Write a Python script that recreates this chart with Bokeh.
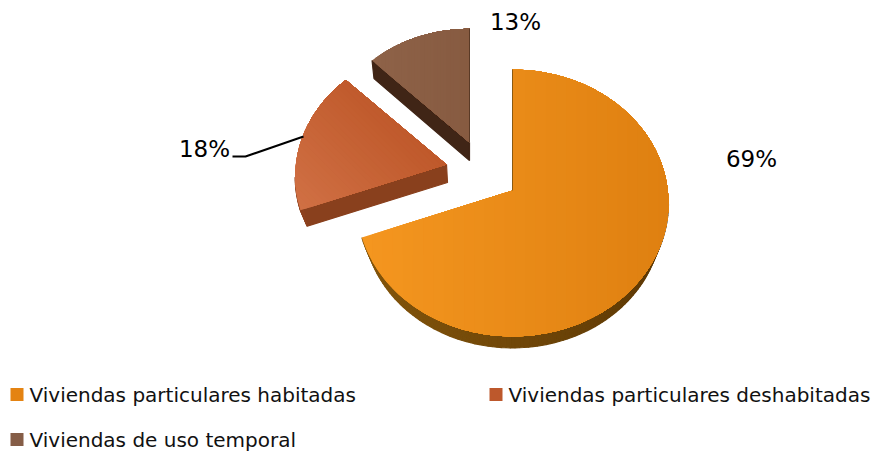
import numpy as np
from bokeh.plotting import figure
from bokeh.models import ColumnDataSource
from bokeh.core.properties import value
from bokeh.embed import file_html
from bokeh.resources import INLINE

# ---- data ----
categories = ["Viviendas particulares habitadas", "Viviendas particulares deshabitadas", "Viviendas de uso temporal"]
shares = [69.4, 18.0, 12.6]

# ---- style ----
FONT = "DejaVu Sans"
top_light = ["#F4961F", "#D07044", "#8E6248"]
top_dark = ["#DF8011", "#BF592B", "#875B41"]
side_light = ["#84560C", "#8E431F", "#44281A"]
side_dark = ["#5E3905", "#7E3819", "#38200F"]
legend_colors = ["#E48312", "#BD582C", "#855D47"]
apex = [(512, 190), (446, 164), (469, 142)]
scale = [1.0, 0.97, 0.94]
grad_dir = [(1, 0), (0.7, -0.7), (1, 0)]
base_shift = [(0, 18), (1, 18), (0, 18)]
base_scale = [(0.955, 0.955), (0.96, 0.955), (0.98, 1.0)]
RX, RY, K = 155.3, 132.3, 0.0936
legend_pos = [(10, 394), (489, 394), (10, 439)]
label_pos = [(751, 158), (204, 148), (515, 21)]


def rim(t, s):
    u, v = np.sin(t), np.cos(t)
    d = 1 + K * v
    return s * RX * u / d, -s * RY * v / d


def clip(poly, n, lo, hi):
    def half(pts, keep, limit):
        out = []
        for i in range(len(pts)):
            a, b = pts[i], pts[(i + 1) % len(pts)]
            pa, pb = a[0] * n[0] + a[1] * n[1], b[0] * n[0] + b[1] * n[1]
            ina, inb = keep * (pa - limit) >= 0, keep * (pb - limit) >= 0
            if ina:
                out.append(a)
            if ina != inb:
                f = (limit - pa) / (pb - pa)
                out.append((a[0] + f * (b[0] - a[0]), a[1] + f * (b[1] - a[1])))
        return out
    pts = half(poly, 1, lo)
    return half(pts, -1, hi) if pts else pts


def mix(c1, c2, f):
    a = [int(c1[i:i + 2], 16) for i in (1, 3, 5)]
    b = [int(c2[i:i + 2], 16) for i in (1, 3, 5)]
    return "#%02x%02x%02x" % tuple(int(round(x + (y - x) * f)) for x, y in zip(a, b))


p = figure(width=876, height=451, x_range=(0, 876), y_range=(451, 0),
           toolbar_location=None, output_backend="svg", min_border=0)
p.axis.visible = False
p.grid.visible = False
p.outline_line_color = None

edges = 2 * np.pi * np.cumsum([0] + shares) / sum(shares)

for i in [2, 1, 0]:
    ax, ay = apex[i]
    ts = np.linspace(edges[i], edges[i + 1], 160)
    rx, ry = rim(ts, scale[i])
    top = [(ax, ay)] + [(ax + x, ay + y) for x, y in zip(rx, ry)]
    sx, sy = base_scale[i]
    dx, dy = base_shift[i]
    low = [(ax + dx + (x - ax) * sx, ay + dy + (y - ay) * sy) for x, y in top]

    # the visible wall: painted over itself in short overlapping steps
    xs, ys, cs = [], [], []
    n = len(top)
    for j in range(n):
        k = (j + 1) % n
        if top[k][0] - top[j][0] >= 0:
            continue
        q = [top[j], top[k], low[k], low[j]]
        mx = (top[j][0] - 350) / 320
        cs.append(mix(side_light[i], side_dark[i], float(np.clip(mx, 0, 1))))
        xs.append([c[0] for c in q])
        ys.append([c[1] for c in q])
    p.patches(xs="x", ys="y", source=ColumnDataSource(dict(x=xs, y=ys, c=cs)),
              fill_color="c", line_color="c", line_width=1.2)

    # the top face: overlapping bands, each painted over the previous one's end
    nd = grad_dir[i]
    pr = [a * nd[0] + b * nd[1] for a, b in top]
    lo, hi = min(pr), max(pr)
    cuts = np.linspace(lo, hi, 31)
    xs, ys, cs = [], [], []
    for j in range(30):
        band = clip(top, nd, cuts[j], hi)
        if len(band) > 2:
            xs.append([c[0] for c in band])
            ys.append([c[1] for c in band])
            cs.append(mix(top_light[i], top_dark[i], j / 29))
    p.patches(xs="x", ys="y", source=ColumnDataSource(dict(x=xs, y=ys, c=cs)),
              fill_color="c", line_color=None)

# thin shaded edge along the vertical radius of the large and the back slice
for i, e, col in [(0, edges[0], "#8A5A12"), (2, edges[3], "#5A3A26")]:
    ax, ay = apex[i]
    rx0, ry0 = rim(np.array([e]), scale[i])
    p.line([ax, ax + rx0[0]], [ay, ay + ry0[0]], line_color=col, line_width=1)

# leader line of the 18 % label
leader_x = [303, 245, 232]
leader_y = [136, 156, 156]
p.line(leader_x, leader_y, line_color="black", line_width=2)

# percentage labels
labels = ["%d%%" % round(s) for s in shares]
p.text(x=[c[0] for c in label_pos], y=[c[1] for c in label_pos], text=labels,
       text_font=value(FONT), text_font_size="23px", text_color="#000000",
       text_align="center", text_baseline="middle")

# legend
p.rect(x=[c[0] + 6.5 for c in legend_pos], y=[c[1] for c in legend_pos], width=13, height=13,
       fill_color=legend_colors, line_color=None)
p.text(x=[c[0] + 19 for c in legend_pos], y=[c[1] for c in legend_pos], text=categories,
       text_font=value(FONT), text_font_size="20px", text_color="#111111",
       text_align="left", text_baseline="middle")

open("out.html", "w").write(file_html(p, INLINE))
